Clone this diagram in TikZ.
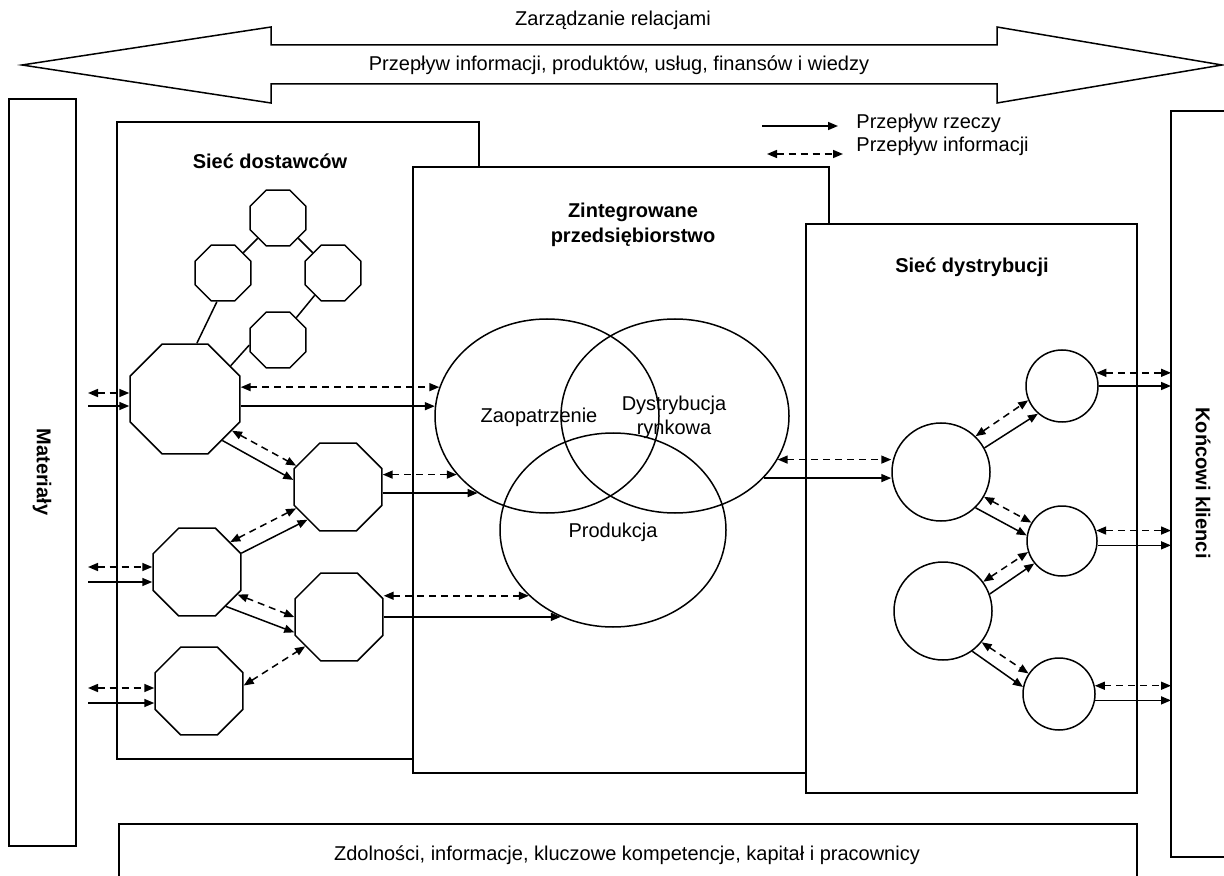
\documentclass[tikz,border=0pt]{standalone}
\usepackage{fontspec}
\setmainfont{Liberation Sans}
\usetikzlibrary{arrows.meta,shapes.geometric}

\begin{document}
\begin{tikzpicture}[x=0.5pt,y=-0.5pt,line width=0.75pt,
    font=\fontsize{10}{12}\selectfont,
    panel/.style={draw,fill=white},
    title/.style={font=\fontsize{10}{12.5}\selectfont\bfseries,align=center},
    okt/.style={draw,fill=white,regular polygon,regular polygon sides=8,inner sep=0pt},
    klient/.style={draw,fill=white,circle,inner sep=0pt},
    obszar/.style={draw,ellipse,inner sep=0pt,minimum height=97pt},
    rzecz/.style={-{Triangle[length=5pt,width=4pt]}},
    info/.style={{Triangle[length=5pt,width=4pt]}-{Triangle[length=5pt,width=4pt]},dash pattern=on 3.5pt off 2.5pt}]
    \clip (0,0) rectangle (1224,876);

    % Zarzadzanie relacjami
    \draw (22,65) -- (271,27) -- (271,45) -- (997,45) -- (997,27) -- (1222,65)
        -- (997,103) -- (997,84) -- (271,84) -- (271,103) -- cycle;
    \node (zarz) at (613,20) {Zarządzanie relacjami};
    \node (przep) at (619,65) {Przepływ informacji, produktów, usług, finansów i wiedzy};

    % side boxes
    \draw (9,99) rectangle (76,846);
    \node[title,rotate=-90] (mat) at (42,472) {Materiały};
    \draw (1171,111) rectangle (1240,857);
    \coordinate (klw) at (1171,480);
    \node[title,rotate=-90] (kl) at (1203,483) {Końcowi klienci};
    \draw (119,824) rectangle (1137,890);
    \node (zdol) at (627,855) {Zdolności, informacje, kluczowe kompetencje, kapitał i pracownicy};

    % Siec dostawcow / przedsiebiorstwo / Siec dystrybucji
    \draw[panel] (117,122) rectangle (479,759);
    \node[title] (tdost) at (270,161) {Sieć dostawców};
    \draw[panel] (413,167) rectangle (829,773);
    \node[title] (tzint) at (633,225) {Zintegrowane\\przedsiębiorstwo};
    \draw[panel] (806,224) rectangle (1137,793);
    \node[title] (tdyst) at (972,267) {Sieć dystrybucji};

    % legend
    \coordinate (l1a) at (762,126);
    \coordinate (l1b) at (838,126);
    \coordinate (l2a) at (767,154);
    \coordinate (l2b) at (843,154);
    \draw[rzecz] (l1a) -- (l1b);
    \draw[info] (l2a) -- (l2b);
    \node[right] (lrz) at (849,123) {Przepływ rzeczy};
    \node[right] (lin) at (849,146) {Przepływ informacji};

    % suppliers
    \node[okt,minimum size=30.3pt] (o1) at (278,218) {};
    \node[okt,minimum size=30.3pt] (o2) at (223,273) {};
    \node[okt,minimum size=30.3pt] (o3) at (333,273) {};
    \node[okt,minimum size=30.3pt] (o4) at (278,340) {};
    \node[okt,minimum size=59.5pt] (o5) at (185,399) {};
    \node[okt,minimum size=47.6pt] (o6) at (338,487) {};
    \node[okt,minimum size=47.6pt] (o7) at (197,572) {};
    \node[okt,minimum size=47.6pt] (o8) at (339,617) {};
    \node[okt,minimum size=47.6pt] (o9) at (199,691) {};

    \draw (o1) -- (o2);
    \draw (o1) -- (o3);
    \draw (o3) -- (o4);
    \draw (o2.258) -- (o5.78);
    \draw (o4.190) -- (o5.36);

    % from materials
    \coordinate (m1) at (88,393);
    \coordinate (m2) at (88,406);
    \coordinate (m3) at (88,567);
    \coordinate (m4) at (88,582);
    \coordinate (m5) at (88,688);
    \coordinate (m6) at (88,703);
    \draw[info] (m1) -- (m1 -| o5.west);
    \draw[rzecz] (m2) -- (m2 -| o5.west);
    \draw[info] (m3) -- (m3 -| o7.west);
    \draw[rzecz] (m4) -- (m4 -| o7.west);
    \draw[info] (m5) -- (m5 -| o9.west);
    \draw[rzecz] (m6) -- (m6 -| o9.west);

    \draw[rzecz] (o5.-48) -- (o6.171);
    \draw[info] (o5.-34) -- (o6.153);
    \draw[rzecz] (o7.23) -- (o6.227);
    \draw[info] (o7.42) -- (o6.207);
    \draw[rzecz] (o7.-50) -- (o8.199);
    \draw[info] (o7.-29) -- (o8.180);
    \draw[info] (o9.7) -- (o8.221);

    % enterprise
    \node[obszar,minimum width=112pt] (zaop) at (547,416) {};
    \node[obszar,minimum width=114pt] (dyst) at (675,416) {};
    \node[obszar,minimum width=113pt] (prod) at (613,530) {};
    \node (tzaop) at (539,417) {Zaopatrzenie};
    \node[align=center] (tdys) at (674,417) {Dystrybucja\\rynkowa};
    \node (tprod) at (613,532) {Produkcja};

    \draw[info] (zaop.165 -| o5.east) -- (zaop.165);
    \draw[rzecz] (zaop.175 -| o5.east) -- (zaop.175);
    \draw[info] (zaop.213 -| o6.east) -- (zaop.213);
    \draw[rzecz] (zaop.228 -| o6.east) -- (zaop.228);
    \draw[info] (prod.218 -| o8.east) -- (prod.218);
    \draw[rzecz] (prod.239 -| o8.east) -- (prod.239);

    % distribution
    \node[klient,minimum size=49pt] (c2) at (941,472) {};
    \node[klient,minimum size=36pt] (c1) at (1062,386) {};
    \node[klient,minimum size=35pt] (c3) at (1062,541) {};
    \node[klient,minimum size=49pt] (c4) at (943,611) {};
    \node[klient,minimum size=36pt] (c5) at (1059,694) {};

    \draw[info] (dyst.337) -- (dyst.337 -| c2.west);
    \draw[rzecz] (dyst.325) -- (dyst.325 -| c2.west);
    \draw[rzecz] (c2.29) -- (c1.229);
    \draw[info] (c2.46) -- (c1.203);
    \draw[rzecz] (c2.-46) -- (c3.171);
    \draw[info] (c2.-30) -- (c3.149);
    \draw[rzecz] (c4.20) -- (c3.219);
    \draw[info] (c4.36) -- (c3.198);
    \draw[rzecz] (c4.-54) -- (c5.169);
    \draw[info] (c4.-39) -- (c5.146);

    % to customers
    \draw[info] (c1.21) -- (c1.21 -| klw);
    \draw[rzecz] (c1.east) -- (c1.east -| klw);
    \draw[info] (c3.17) -- (c3.17 -| klw);
    \draw[rzecz] (c3.-7) -- (c3.-7 -| klw);
    \draw[info] (c5.13) -- (c5.13 -| klw);
    \draw[rzecz] (c5.-10) -- (c5.-10 -| klw);
\end{tikzpicture}
\end{document}
